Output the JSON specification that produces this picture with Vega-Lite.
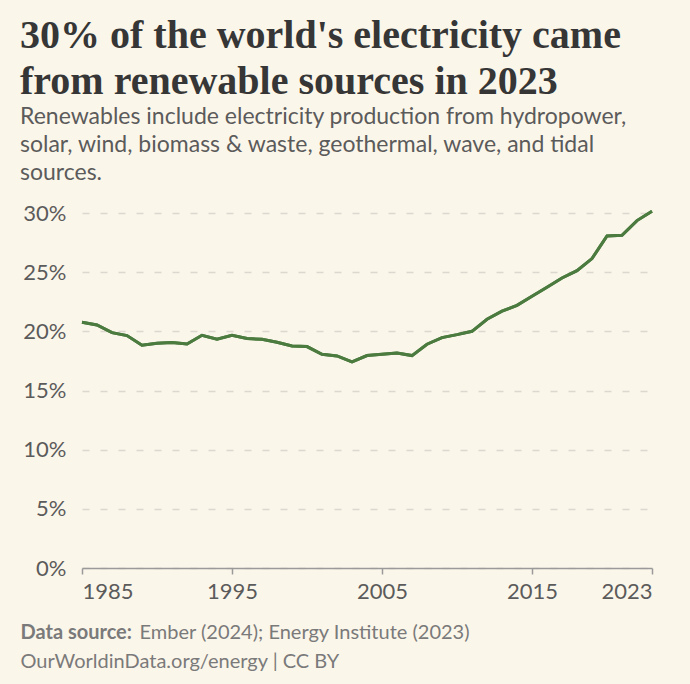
{
  "$schema": "https://vega.github.io/schema/vega-lite/v6.json",
  "width": 570,
  "height": 355,
  "autosize": {"type": "none"},
  "padding": {"left": 82, "top": 213, "right": 38, "bottom": 116},
  "background": "#fbf6ea",
  "config": {"view": {"stroke": null}},
  "title": {
    "text": ["30% of the world's electricity came", "from renewable sources in 2023"],
    "subtitle": ["Renewables include electricity production from hydropower,", "solar, wind, biomass & waste, geothermal, wave, and tidal", "sources."],
    "anchor": "start",
    "frame": "group",
    "dx": -62,
    "font": "Liberation Serif",
    "fontSize": 40,
    "fontWeight": "bold",
    "color": "#363636",
    "lineHeight": 46,
    "subtitleFont": "Lato",
    "subtitleFontSize": 23,
    "subtitleColor": "#5b5b5b",
    "subtitleLineHeight": 28,
    "subtitlePadding": 4,
    "offset": 17
  },
  "data": {"values": [
    {"year": 1985, "share": 20.77},
    {"year": 1986, "share": 20.54},
    {"year": 1987, "share": 19.89},
    {"year": 1988, "share": 19.64},
    {"year": 1989, "share": 18.82},
    {"year": 1990, "share": 18.99},
    {"year": 1991, "share": 19.05},
    {"year": 1992, "share": 18.93},
    {"year": 1993, "share": 19.67},
    {"year": 1994, "share": 19.33},
    {"year": 1995, "share": 19.67},
    {"year": 1996, "share": 19.39},
    {"year": 1997, "share": 19.33},
    {"year": 1998, "share": 19.08},
    {"year": 1999, "share": 18.77},
    {"year": 2000, "share": 18.71},
    {"year": 2001, "share": 18.06},
    {"year": 2002, "share": 17.92},
    {"year": 2003, "share": 17.42},
    {"year": 2004, "share": 17.95},
    {"year": 2005, "share": 18.06},
    {"year": 2006, "share": 18.17},
    {"year": 2007, "share": 17.95},
    {"year": 2008, "share": 18.91},
    {"year": 2009, "share": 19.47},
    {"year": 2010, "share": 19.72},
    {"year": 2011, "share": 20.0},
    {"year": 2012, "share": 21.02},
    {"year": 2013, "share": 21.7},
    {"year": 2014, "share": 22.2},
    {"year": 2015, "share": 22.96},
    {"year": 2016, "share": 23.73},
    {"year": 2017, "share": 24.51},
    {"year": 2018, "share": 25.13},
    {"year": 2019, "share": 26.15},
    {"year": 2020, "share": 28.06},
    {"year": 2021, "share": 28.12},
    {"year": 2022, "share": 29.36},
    {"year": 2023, "share": 30.15}
  ]},
  "layer": [
    {
      "mark": {"type": "line", "color": "#4b7b3f", "strokeWidth": 3, "clip": false},
      "encoding": {
        "x": {
          "field": "year", "type": "quantitative",
          "scale": {"domain": [1985, 2023], "nice": false, "zero": false},
          "axis": {
            "values": [1985, 1995, 2005, 2015, 2023], "format": "d", "grid": false,
            "domainColor": "#9a9a9a", "domainWidth": 1.5, "tickColor": "#9a9a9a", "tickWidth": 1.5, "tickSize": 6,
            "labelFont": "Lato", "labelFontSize": 22, "labelColor": "#5b5b5b", "labelPadding": 7, "labelFlush": true,
            "title": "Data source:", "titleFont": "Lato", "titleFontSize": 20, "titleFontWeight": "bold", "titleColor": "#7a7a7a",
            "titleAnchor": "start", "titleAlign": "left", "titleBaseline": "alphabetic", "titleX": -62, "titleY": 70
          }
        },
        "y": {
          "field": "share", "type": "quantitative",
          "scale": {"domain": [0, 30], "nice": false},
          "axis": {
            "values": [0, 5, 10, 15, 20, 25, 30], "labelExpr": "datum.value + '%'",
            "domain": false, "ticks": false, "gridDash": [7, 11], "gridColor": "#dcd8cf", "gridWidth": 1.5,
            "labelFont": "Lato", "labelFontSize": 22, "labelColor": "#5b5b5b", "labelPadding": 16,
            "title": "Ember (2024); Energy Institute (2023)", "titleAngle": 0, "titleX": 57, "titleY": 425,
            "titleAlign": "left", "titleBaseline": "alphabetic", "titleFont": "Lato", "titleFontSize": 20,
            "titleFontWeight": "normal", "titleColor": "#7a7a7a"
          }
        }
      }
    },
    {
      "mark": {"type": "line", "color": "#4b7b3f", "strokeWidth": 3, "clip": false},
      "encoding": {
        "x": {"field": "year", "type": "quantitative"},
        "y": {
          "field": "share", "type": "quantitative",
          "scale": {"domain": [0, 30], "nice": false},
          "axis": {
            "orient": "left", "labels": false, "ticks": false, "domain": false, "grid": false,
            "title": "OurWorldinData.org/energy | CC BY", "titleAngle": 0, "titleX": -62, "titleY": 454,
            "titleAlign": "left", "titleBaseline": "alphabetic", "titleFont": "Lato", "titleFontSize": 20,
            "titleFontWeight": "normal", "titleColor": "#7a7a7a"
          }
        }
      }
    }
  ],
  "resolve": {"scale": {"y": "independent"}}
}
